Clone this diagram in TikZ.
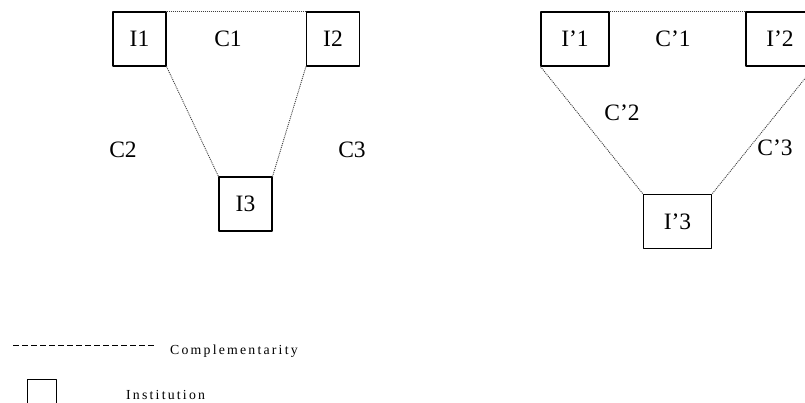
\documentclass[tikz,border=0pt]{standalone}
\usepackage{fontspec}
\setmainfont{Liberation Serif}
\newfontfamily\legendfont[LetterSpace=16]{Liberation Serif}
\begin{document}
\begin{tikzpicture}[x=1pt,y=-1pt,line join=round,font=\fontsize{23.5}{26}\selectfont,
		inst/.style={draw,line width=1.1pt,inner sep=0pt,minimum width=53,minimum height=54},
		instw/.style={inst,minimum width=68},
		compl/.style={line width=.9pt,black!75,dash pattern=on 1pt off 1pt},
		lab/.style={inner sep=0pt},
		leg/.style={anchor=west,lab,font=\legendfont\fontsize{13.8}{16}\selectfont}]
		\useasboundingbox (0,0) rectangle (805,402);
		% first configuration
		\node[inst] (I1) at (139.5,39) {I1};
		\node[inst] (I2) at (333,39) {I2};
		\node[inst] (I3) at (245.5,204) {I3};
		\node[lab] (C1) at (228,39) {C1};
		\node[lab] (C2) at (123,150) {C2};
		\node[lab] (C3) at (352,150) {C3};
		\draw[compl] (I1.north east) -- (I2.north west);
		\draw[compl] (I1.south east) -- (I3.north west);
		\draw[compl] (I2.south west) -- (I3.north east);
		% second configuration
		\node[instw] (Ip1) at (575,39) {I'1};
		\node[instw] (Ip2) at (780,39) {I'2};
		\node[instw] (Ip3) at (677.5,221.5) {I'3};
		\node[lab] (Cp1) at (673,39) {C'1};
		\node[lab] (Cp2) at (622,113) {C'2};
		\node[lab] (Cp3) at (775,148) {C'3};
		\draw[compl] (Ip1.north east) -- (Ip2.north west);
		\draw[compl] (Ip1.south west) -- (Ip3.north west);
		\draw[compl] (Ip2.south east) -- (Ip3.north east);
		% legend
		\coordinate (d1) at (13,345);
		\coordinate (d2) at (155,345);
		\draw[line width=.7pt,dash pattern=on 6pt off 3pt] (d1) -- (d2);
		\node[leg] (lcompl) at (170,351) {Complementarity};
		\node[draw,line width=.8pt,minimum size=29,inner sep=0pt] (lbox) at (41.5,394) {};
		\node[leg] (linst) at (126,395) {Institution};
	\end{tikzpicture}
\end{document}
